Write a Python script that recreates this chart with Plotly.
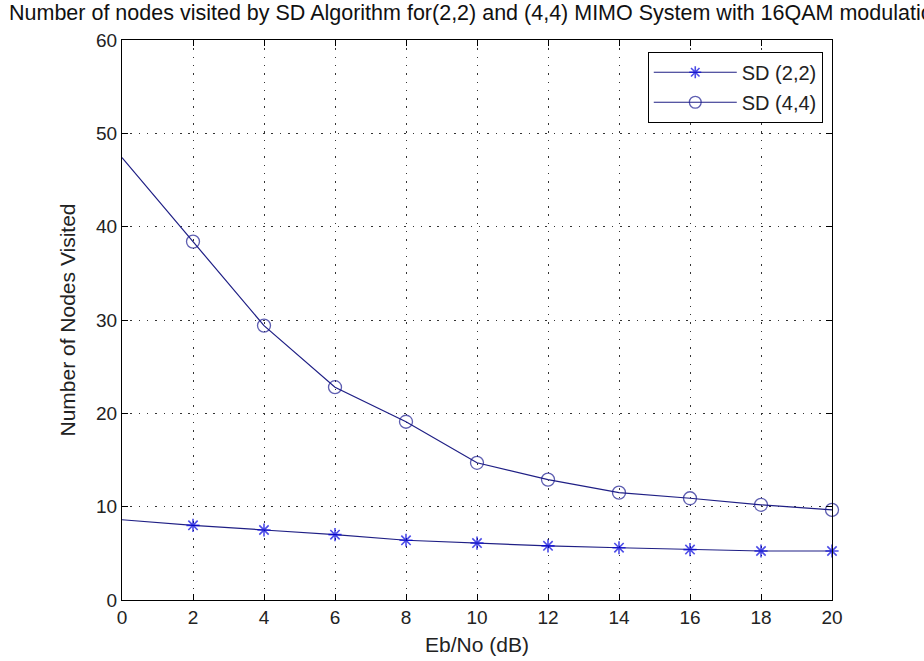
import plotly.graph_objects as go

ebno = [0, 2, 4, 6, 8, 10, 12, 14, 16, 18, 20]
sd22 = [8.6, 8.0, 7.5, 7.0, 6.4, 6.1, 5.8, 5.6, 5.4, 5.25, 5.25]
sd44 = [47.4, 38.4, 29.4, 22.8, 19.1, 14.7, 12.9, 11.5, 10.9, 10.2, 9.65]
x_ticks = [0, 2, 4, 6, 8, 10, 12, 14, 16, 18, 20]
y_ticks = [0, 10, 20, 30, 40, 50, 60]

title_text = "Number of nodes visited by SD Algorithm for(2,2) and (4,4) MIMO System with 16QAM modulation"
FONT = "Liberation Sans, Arial, sans-serif"
line_col = "#1f1f85"

# first point drawn without a marker, as in the reference
sizes22 = [0] + [11] * (len(ebno) - 1)
sizes44 = [0] + [13] * (len(ebno) - 1)

fig = go.Figure()
fig.add_trace(go.Scatter(
    x=ebno, y=sd22, mode="lines+markers", name="SD (2,2)", legendgroup="a",
    line=dict(color=line_col, width=1.2),
    marker=dict(symbol="asterisk-open", size=sizes22,
                line=dict(color="#0000dd", width=1.6), color="#0000dd"),
    cliponaxis=False,
))
fig.add_trace(go.Scatter(
    x=ebno, y=sd44, mode="lines+markers", name="SD (4,4)", legendgroup="b",
    line=dict(color=line_col, width=1.2),
    marker=dict(symbol="circle-open", size=sizes44,
                line=dict(color="#1a1a90", width=1.3), color="#1a1a90"),
    cliponaxis=False,
))

axis_common = dict(
    showline=True, linecolor="black", linewidth=1, mirror="ticks",
    ticks="inside", ticklen=6, tickcolor="black", tickwidth=1,
    showgrid=True, gridcolor="#333", gridwidth=1.3, griddash="1.5px,6.8px",
    zeroline=False, tickfont=dict(family=FONT, size=19, color="#222"),
    automargin=False,
)

fig.update_layout(
    width=924, height=661,
    margin=dict(l=122, r=92, t=40, b=61),
    paper_bgcolor="white", plot_bgcolor="white",
    font=dict(family=FONT, size=19, color="#222"),
    showlegend=True,
    legend=dict(
        x=0.987, y=0.979, xanchor="right", yanchor="top",
        bgcolor="white", bordercolor="black", borderwidth=1,
        font=dict(family=FONT, size=20, color="#222"),
        itemwidth=83, tracegroupgap=1,
    ),
    xaxis=dict(range=[0, 20], tickvals=x_ticks,
               title=dict(text="Eb/No (dB)", font=dict(family=FONT, size=21), standoff=10),
               **axis_common),
    yaxis=dict(range=[0, 60], tickvals=y_ticks,
               title=dict(text="Number of Nodes Visited", font=dict(family=FONT, size=21), standoff=14),
               **axis_common),
    annotations=[dict(
        text=title_text, x=0.5, xref="paper", y=1.048, yref="paper",
        xanchor="center", yanchor="middle", showarrow=False,
        font=dict(family=FONT, size=21.5, color="#111"),
    )],
)

fig.write_html("out.html")
